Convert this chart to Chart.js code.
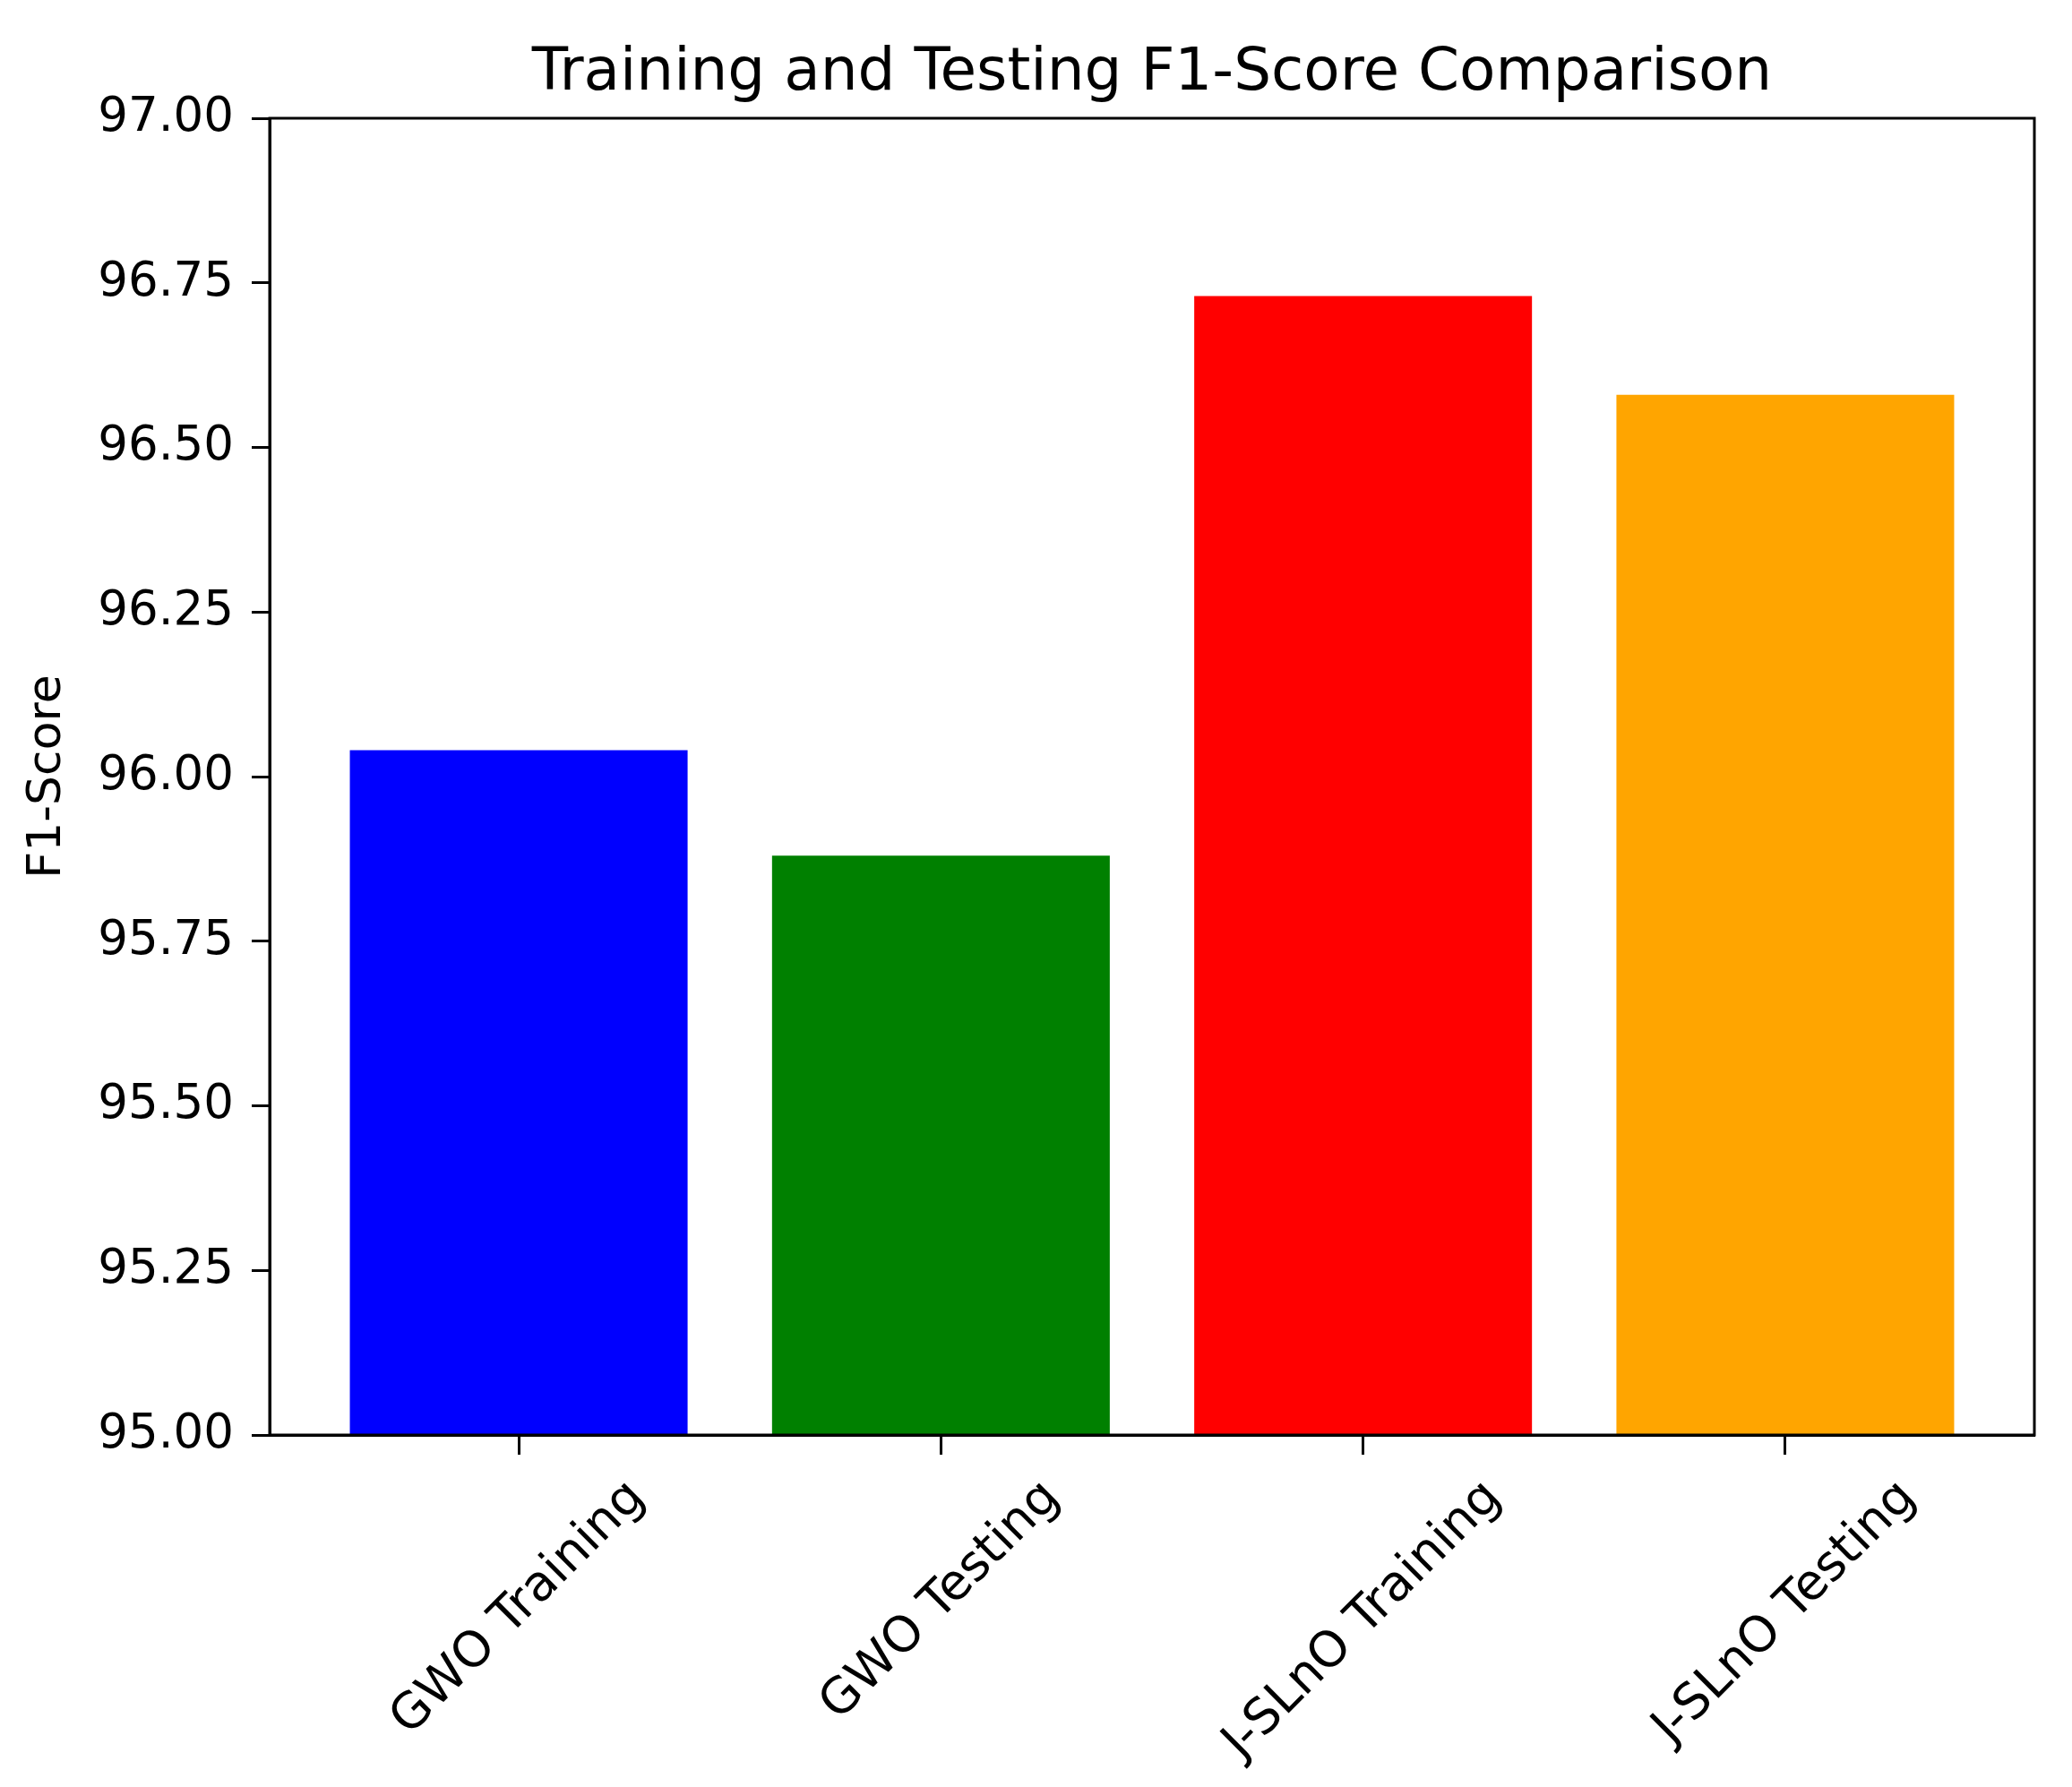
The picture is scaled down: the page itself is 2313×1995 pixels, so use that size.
<!DOCTYPE html>
<html>
<head>
<meta charset="utf-8">
<script src="https://cdn.jsdelivr.net/npm/chart.js@4/dist/chart.umd.min.js"></script>
<style>
    body { margin: 0; background: #FFFFFF; }
    #wrap { width: 2313px; height: 1995px; }
</style>
</head>
<body>
<div id="wrap"><canvas id="f1Chart"></canvas></div>
<script>
// ==========================================
// Training / Testing F1-Score bars
// ==========================================

const categories = ["GWO Training", "GWO Testing", "J-SLnO Training", "J-SLnO Testing"];
const f1Scores = [96.04, 95.88, 96.73, 96.58];
const barColors = ["#0000FF", "#008000", "#FF0000", "#FFA500"];
const yTicks = [95.00, 95.25, 95.50, 95.75, 96.00, 96.25, 96.50, 96.75, 97.00];
const chartTitle = "Training and Testing F1-Score Comparison";

const FONT = "DejaVu Sans";
const TICK_SIZE = 53;

// frame on all four sides, title over the plot, rotated x labels centred on ticks
const framePlugin = {
    id: "frame",
    afterDraw(chart) {
        const ctx = chart.ctx;
        const area = chart.chartArea;
        const xScale = chart.scales.x;

        ctx.save();
        ctx.strokeStyle = "#000000";
        ctx.lineWidth = 3;
        ctx.strokeRect(area.left, area.top, area.right - area.left, area.bottom - area.top);

        ctx.fillStyle = "#000000";
        ctx.textAlign = "center";
        ctx.textBaseline = "alphabetic";
        ctx.font = "66px '" + FONT + "'";
        ctx.fillText(chartTitle, (area.left + area.right) / 2, 100);

        ctx.font = "55px '" + FONT + "'";
        ctx.textBaseline = "middle";
        categories.forEach(function (label, i) {
            const x = xScale.getPixelForValue(i);
            const w = ctx.measureText(label).width;
            const half = (w + 55) * Math.SQRT1_2 / 2;
            const y = area.bottom + 22 + 20 + half;
            ctx.save();
            ctx.translate(x, y);
            ctx.rotate(-Math.PI / 4);
            ctx.fillText(label, 0, 0);
            ctx.restore();
        });
        ctx.restore();
    }
};

const f1Chart = new Chart(
    document.getElementById("f1Chart"),
    {
        type: "bar",

        data: {
            datasets: [{
                data: f1Scores.map(function (v, i) { return { x: i, y: v }; }),
                backgroundColor: barColors,
                borderWidth: 0,
                barPercentage: 0.8,
                categoryPercentage: 1.0
            }]
        },

        options: {
            responsive: true,
            maintainAspectRatio: false,
            animation: false,

            layout: {
                padding: { left: 0, right: 42, top: 132, bottom: 0 }
            },

            plugins: {
                legend: { display: false },
                tooltip: { enabled: false },
                title: { display: false }
            },

            scales: {

                x: {
                    type: "linear",
                    offset: false,
                    min: -0.59,
                    max: 3.59,
                    afterBuildTicks: function (scale) {
                        scale.ticks = categories.map(function (c, i) { return { value: i }; });
                    },
                    afterFit: function (scale) {
                        scale.height = 393;
                    },
                    ticks: { display: false },
                    grid: {
                        offset: false,
                        drawOnChartArea: false,
                        drawTicks: true,
                        tickLength: 22,
                        tickWidth: 3,
                        tickColor: "#000000"
                    },
                    border: { display: true, color: "#000000", width: 3 }
                },

                y: {
                    min: 95,
                    max: 97,
                    afterBuildTicks: function (scale) {
                        scale.ticks = yTicks.map(function (v) { return { value: v }; });
                    },
                    afterFit: function (scale) {
                        scale.width = 301;
                    },
                    ticks: {
                        color: "#000000",
                        padding: 20,
                        font: { family: FONT, size: TICK_SIZE },
                        callback: function (v) { return Number(v).toFixed(2); }
                    },
                    grid: {
                        drawOnChartArea: false,
                        drawTicks: true,
                        tickLength: 20,
                        tickWidth: 3,
                        tickColor: "#000000"
                    },
                    border: { display: true, color: "#000000", width: 3 },
                    title: {
                        display: true,
                        text: "F1-Score",
                        color: "#000000",
                        font: { family: FONT, size: 52, lineHeight: 1.2 },
                        padding: { top: 22, bottom: 0 }
                    }
                }

            }
        },

        plugins: [framePlugin]
    }
);
</script>
</body>
</html>
